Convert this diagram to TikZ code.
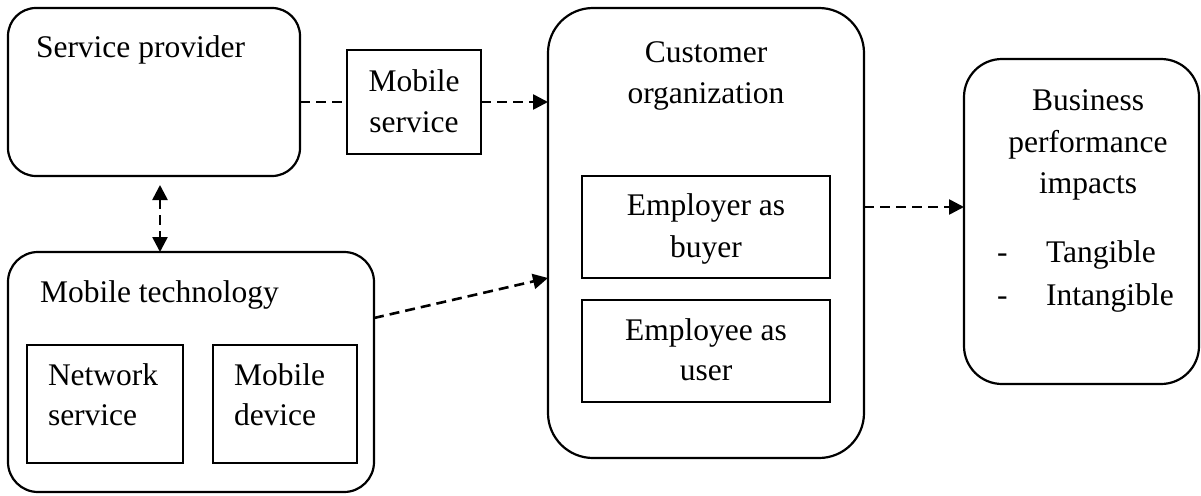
\documentclass[tikz,border=0pt]{standalone}
\usepackage{fontspec}
\setmainfont{Liberation Serif}
\usetikzlibrary{arrows.meta,calc}

\tikzset{
  rbox/.style={draw, rounded corners=#1, line width=2.2pt, inner sep=0pt, outer sep=0pt},
  sbox/.style={draw, line width=2pt, inner sep=0pt, outer sep=0pt},
  txt/.style={inner sep=0pt, outer sep=0pt, font=\fontsize{31.5}{41}\selectfont},
  dsh/.style={line width=2.6pt, dash pattern=on 10pt off 6pt},
  tip/.style={-{Triangle[length=15pt,width=15pt]}},
  dtip/.style={{Triangle[length=15pt,width=15pt]}-{Triangle[length=15pt,width=15pt]}}
}

\begin{document}
\begin{tikzpicture}[x=1pt, y=-1pt]
\useasboundingbox (0,0) rectangle (1201,495);

% outer boxes
\node[rbox=28pt, minimum width=292pt, minimum height=168pt] (sp) at (154,92) {};
\node[sbox, minimum width=134pt, minimum height=104pt] (ms) at (414,102) {};
\node[rbox=45pt, minimum width=316pt, minimum height=450pt] (co) at (706,233) {};
\node[sbox, minimum width=248pt, minimum height=102pt] (eb) at (706,227) {};
\node[sbox, minimum width=248pt, minimum height=102pt] (eu) at (706,351) {};
\node[rbox=38pt, minimum width=235pt, minimum height=325pt] (bp) at (1081.5,221.5) {};
\node[rbox=30pt, minimum width=366pt, minimum height=240pt] (mt) at (191,372) {};
\node[sbox, minimum width=156pt, minimum height=118pt] (ns) at (105,404) {};
\node[sbox, minimum width=144pt, minimum height=118pt] (md) at (285,404) {};

% texts
\node[txt, anchor=base west] (spt) at (36,57) {Service provider};
\node[txt, anchor=base] (mst1) at (414,91) {Mobile};
\node[txt, anchor=base] (mst2) at (414,132) {service};
\node[txt, anchor=base] (cot1) at (706,63) {Customer};
\node[txt, anchor=base] (cot2) at (706,103) {organization};
\node[txt, anchor=base] (ebt1) at (706,215) {Employer as};
\node[txt, anchor=base] (ebt2) at (706,257) {buyer};
\node[txt, anchor=base] (eut1) at (706,340) {Employee as};
\node[txt, anchor=base] (eut2) at (706,380) {user};
\node[txt, anchor=base] (bpt1) at (1088,110) {Business};
\node[txt, anchor=base] (bpt2) at (1088,152) {performance};
\node[txt, anchor=base] (bpt3) at (1088,193) {impacts};
\node[txt, anchor=base west] (bpd1) at (997,262) {-};
\node[txt, anchor=base west] (bpi1) at (1046,262) {Tangible};
\node[txt, anchor=base west] (bpd2) at (997,305) {-};
\node[txt, anchor=base west] (bpi2) at (1046,305) {Intangible};
\node[txt, anchor=base west] (mtt) at (40,302) {Mobile technology};
\node[txt, anchor=base west] (nst1) at (48,385) {Network};
\node[txt, anchor=base west] (nst2) at (48,425) {service};
\node[txt, anchor=base west] (mdt1) at (234,385) {Mobile};
\node[txt, anchor=base west] (mdt2) at (234,425) {device};

% connectors
\coordinate (ax) at (160,0);
\draw[dsh] (ms.west -| sp.east) -- (ms.west);
\draw[dsh, tip] (ms.east) -- (ms.east -| co.west);
\draw[dsh, tip] ([yshift=26pt]co.east) -- ([yshift=26pt]co.east -| bp.west);
\draw[dsh, tip] ([yshift=54pt]mt.east) -- ([yshift=-45pt]co.west);
\draw[dsh, dtip, shorten <=9pt] (sp.south -| ax) -- (mt.north -| ax);
\end{tikzpicture}
\end{document}
